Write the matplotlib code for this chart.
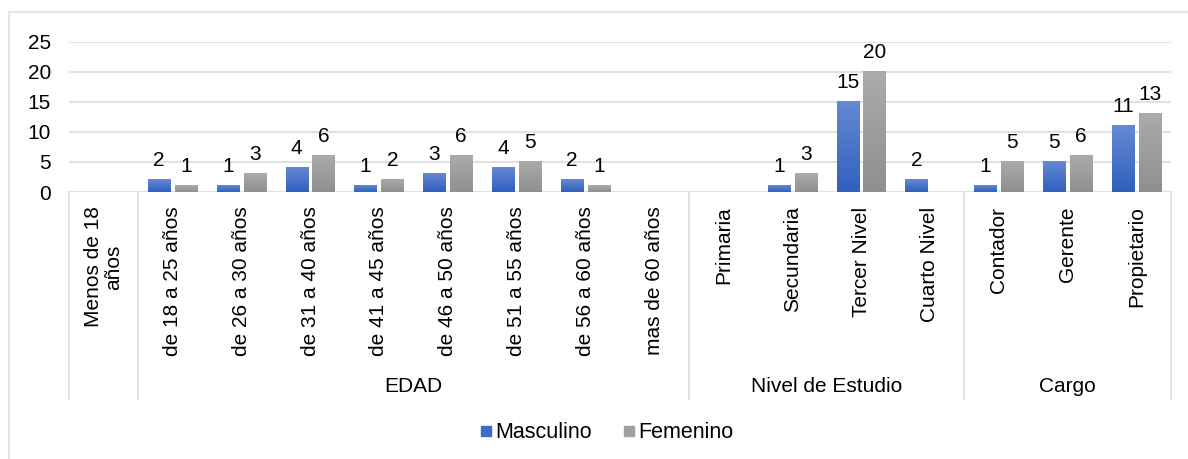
import matplotlib
matplotlib.use('Agg')
import matplotlib.pyplot as plt
from matplotlib.lines import Line2D
from matplotlib.colors import LinearSegmentedColormap
import matplotlib.transforms as mtransforms
import numpy as np

plt.rcParams['font.family'] = ['Liberation Sans', 'DejaVu Sans']
plt.rcParams['font.size'] = 15

categories = ["Menos de 18\naños", "de 18 a 25 años", "de 26 a 30 años",
              "de 31 a 40 años", "de 41 a 45 años", "de 46 a 50 años",
              "de 51 a 55 años", "de 56 a 60 años", "mas de 60 años",
              "Primaria", "Secundaria", "Tercer Nivel", "Cuarto Nivel",
              "Contador", "Gerente", "Propietario"]
masculino = [0, 2, 1, 4, 1, 3, 4, 2, 0, 0, 1, 15, 2, 1, 5, 11]
femenino = [0, 1, 3, 6, 2, 6, 5, 1, 0, 0, 3, 20, 0, 5, 6, 13]
groups = ["", "EDAD", "Nivel de Estudio", "Cargo"]
group_sizes = [1, 8, 4, 3]
yticks = [0, 5, 10, 15, 20, 25]

LINE = '#dde2e8'
blue_cmap = LinearSegmentedColormap.from_list("blue", ["#2f60be", "#6589d3"])
gray_cmap = LinearSegmentedColormap.from_list("gray", ["#8f8f8f", "#ababab"])


def gradient_bars(ax, bars, cmap):
    # fill each bar with a vertical gradient, light at the top
    grad = np.linspace(0, 1, 256).reshape(-1, 1)
    for b in bars:
        b.set_facecolor('none')
        b.set_edgecolor('none')
        h = b.get_height()
        if h <= 0:
            continue
        x0 = b.get_x()
        ax.imshow(grad, extent=[x0, x0 + b.get_width(), 0, h], origin='lower',
                  cmap=cmap, aspect='auto', zorder=2, interpolation='bilinear')


def main():
    fig = plt.figure(figsize=(11.88, 4.59), dpi=100)
    ax = fig.add_axes([69 / 1188, 1 - 192 / 459, (1171 - 69) / 1188, (192 - 41.7) / 459])

    x = np.arange(len(categories))
    w = 0.32
    off = 0.195
    b1 = ax.bar(x - off, masculino, w, zorder=2)
    b2 = ax.bar(x + off, femenino, w, zorder=2)
    gradient_bars(ax, b1, blue_cmap)
    gradient_bars(ax, b2, gray_cmap)

    ax.bar_label(b1, labels=[str(v) if v else "" for v in masculino], padding=7, fontsize=15)
    ax.bar_label(b2, labels=[str(v) if v else "" for v in femenino], padding=7, fontsize=15)

    ax.set_xlim(-0.5, len(categories) - 0.5)
    ax.set_ylim(0, 25)
    ax.set_yticks(yticks)
    ax.yaxis.grid(True, color=LINE, lw=1.5, zorder=0)
    ax.set_axisbelow(True)
    for s in ax.spines.values():
        s.set_visible(False)
    ax.axhline(0, color=LINE, lw=1.5, zorder=1)
    ax.tick_params(axis='y', length=0, pad=13, labelcolor='black')
    ax.tick_params(axis='x', length=0, pad=10.5)
    ax.set_xticks(x)
    ax.set_xticklabels(categories, rotation=90, va='top', ha='center',
                       multialignment='center', linespacing=1.1)

    # category table: dividers between groups and group names underneath
    trans = mtransforms.blended_transform_factory(ax.transData, fig.transFigure)
    y_top = 1 - 192 / 459
    y_bot = 1 - 399 / 459
    edges = np.concatenate([[0], np.cumsum(group_sizes)]) - 0.5
    for e in edges:
        ax.add_line(Line2D([e, e], [y_top, y_bot], transform=trans, color=LINE,
                           lw=1.5, clip_on=False))
    for name, lo, hi in zip(groups, edges[:-1], edges[1:]):
        if name:
            ax.text((lo + hi) / 2, 1 - 387 / 459, name, transform=trans,
                    ha='center', va='center')

    handles = [Line2D([], [], marker='s', ls='', markersize=7.5, color='#3e6bc6'),
               Line2D([], [], marker='s', ls='', markersize=7.5, color='#a0a0a0')]
    fig.legend(handles, ["Masculino", "Femenino"], loc='center', ncol=2,
               bbox_to_anchor=(607 / 1188, 1 - 433 / 459), frameon=False,
               fontsize=15.5, handlelength=0.5, handletextpad=0.15,
               columnspacing=1.5)

    # chart area border (top and left edges)
    fig.add_artist(Line2D([9 / 1188, 1], [1 - 12 / 459] * 2, color=LINE, lw=1.2))
    fig.add_artist(Line2D([9 / 1188] * 2, [1 - 12 / 459, 0], color=LINE, lw=1.2))

    fig.savefig("out.png", dpi=100)


if __name__ == "__main__":
    main()
